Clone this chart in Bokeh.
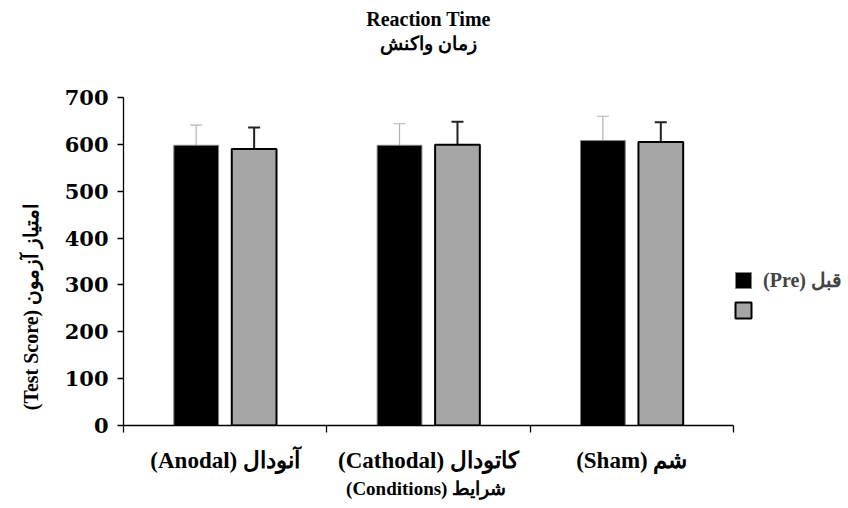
from bokeh.plotting import figure
from bokeh.models import (Range1d, FixedTicker, Title, Legend, LegendItem, Whisker,
                          ColumnDataSource, TeeHead)
from bokeh.transform import dodge
from bokeh.core.properties import value
from bokeh.embed import file_html
from bokeh.resources import INLINE

# ---- data ----
categories = ["(Anodal) آنودال", "(Cathodal) کاتودال", "(Sham) شم"]
pre = [598, 598, 608]
post = [590, 599, 605]
pre_err = [43, 46, 52]
post_err = [46, 49, 42]
y_ticks = [0, 100, 200, 300, 400, 500, 600, 700]
pre_label = "(Pre) قبل"
post_label = ""
title_en = "Reaction Time"
title_fa = "زمان واکنش"
x_title = "(Conditions)  شرایط"
y_title = "(Test Score) امتیاز آزمون" + "\u00a0" * 18

centers = [i + 0.5 for i in range(len(categories))]
src = ColumnDataSource(dict(
    idx=centers, pre=pre, post=post,
    pre_top=[v + e for v, e in zip(pre, pre_err)],
    post_top=[v + e for v, e in zip(post, post_err)],
))

SERIF = "Liberation Serif"

p = figure(frame_width=610, frame_height=328, output_backend="svg", toolbar_location=None,
           x_range=Range1d(0, len(categories)), y_range=Range1d(0, 700),
           min_border_left=123, min_border_right=115, min_border_top=97, min_border_bottom=83,
           title_location=None)
p.outline_line_color = None
p.xgrid.visible = False
p.ygrid.visible = False
p.background_fill_color = "white"
p.border_fill_color = "white"

off = 0.1425
bw = 0.22
r_pre = p.vbar(x=dodge("idx", -off), top="pre", width=bw, bottom=0, source=src,
               fill_color="black", line_color="#808080", line_width=1)
r_post = p.vbar(x=dodge("idx", off), top="post", width=bw, bottom=0, source=src,
                fill_color="#a6a6a6", line_color="black", line_width=2)

w1 = Whisker(base=dodge("idx", -off), upper="pre_top", lower="pre", source=src,
             line_color="#b3b3b3", line_width=1.2,
             upper_head=TeeHead(size=12, line_color="#b3b3b3", line_width=1.2),
             lower_head=None)
w2 = Whisker(base=dodge("idx", off), upper="post_top", lower="post", source=src,
             line_color="#222222", line_width=2,
             upper_head=TeeHead(size=12, line_color="#222222", line_width=2),
             lower_head=None)
p.add_layout(w1)
p.add_layout(w2)

# x axis
xa = p.xaxis[0]
xa.ticker = FixedTicker(ticks=centers, minor_ticks=list(range(len(categories) + 1)))
xa.major_label_overrides = {c: lab for c, lab in zip(centers, categories)}
xa.major_tick_out = 0
xa.major_tick_in = 0
xa.minor_tick_out = 7
xa.minor_tick_in = 0
xa.minor_tick_line_color = "black"
xa.minor_tick_line_width = 1.3
xa.axis_line_width = 1.3
xa.major_label_text_font = SERIF
xa.major_label_text_font_style = "bold"
xa.major_label_text_font_size = "23px"
xa.major_label_text_color = "black"
xa.major_label_standoff = 15
xa.axis_label = x_title
xa.axis_label_text_font = SERIF
xa.axis_label_text_font_style = "bold"
xa.axis_label_text_font_size = "19px"
xa.axis_label_text_color = "black"
xa.axis_label_standoff = 2

# y axis
ya = p.yaxis[0]
ya.ticker = FixedTicker(ticks=y_ticks)
ya.minor_tick_line_color = None
ya.major_tick_out = 6
ya.major_tick_in = 0
ya.major_tick_line_width = 1.3
ya.axis_line_width = 1.3
ya.major_label_text_font = "DejaVu Serif"
ya.major_label_text_font_style = "bold"
ya.major_label_text_font_size = "21px"
ya.major_label_text_color = "black"
ya.major_label_standoff = 9
ya.axis_label = y_title
ya.axis_label_text_font = SERIF
ya.axis_label_text_font_style = "bold"
ya.axis_label_text_font_size = "20px"
ya.axis_label_text_color = "black"
ya.axis_label_standoff = 20

# titles (spacer first so that the two title lines sit higher)
spacer = Title(text=" ", text_font_size="1px", standoff=39)
t_fa = Title(text=title_fa, align="center", text_font=SERIF, text_font_style="bold",
             text_font_size="19px", text_color="black", standoff=3)
t_en = Title(text=title_en, align="center", text_font=SERIF, text_font_style="bold",
             text_font_size="20px", text_color="black", standoff=0)
p.add_layout(spacer, "above")
p.add_layout(t_fa, "above")
p.add_layout(t_en, "above")

legend = Legend(items=[LegendItem(label=value(pre_label), renderers=[r_pre]),
                       LegendItem(label=value(post_label), renderers=[r_post])],
                location=(0, 105), orientation="vertical",
                glyph_width=20, glyph_height=20, label_text_font=SERIF,
                label_text_font_style="bold", label_text_font_size="20px",
                label_standoff=10, spacing=8, padding=0, margin=0,
                border_line_color=None, background_fill_alpha=0)
p.add_layout(legend, "right")

open("out.html", "w").write(file_html(p, INLINE))
